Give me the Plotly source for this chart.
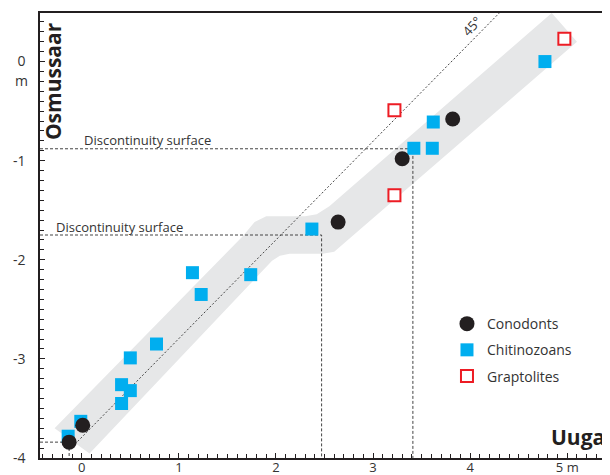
import plotly.graph_objects as go

# ---- data (metres) ----
conodont_x = [-0.13, 0.01, 2.64, 3.30, 3.82]
conodont_y = [-3.84, -3.67, -1.62, -0.98, -0.58]

chitino_x = [-0.14, -0.01, 0.41, 0.41, 0.50, 0.50, 0.77, 1.14, 1.23, 1.74, 2.37, 3.42, 3.61, 3.62, 4.77]
chitino_y = [-3.78, -3.63, -3.45, -3.26, -3.32, -2.99, -2.85, -2.13, -2.35, -2.15, -1.69, -0.875, -0.875, -0.61, 0.00]

grapto_x = [3.22, 3.22, 4.97]
grapto_y = [-0.49, -1.35, 0.23]

# discontinuity surfaces: Uuga position / Osmussaar position
disc_x = [2.47, 3.41]
disc_y = [-1.75, -0.88]

# 45 degree reference line end points
diag_x = [-0.10, 4.30]
diag_y = [-3.89, 0.49]

# correlation band outline
band_x = [-0.28, 1.66, 1.78, 1.90, 2.30, 2.42, 2.55, 4.84, 5.10, 2.70, 2.60, 2.48, 2.14, 2.04, 1.96, 0.08, -0.28]
band_y = [-3.70, -1.76, -1.62, -1.56, -1.56, -1.54, -1.46, 0.49, 0.20, -1.83, -1.92, -1.94, -1.94, -1.96, -2.01, -3.955, -3.70]

x_ticks = [0, 1, 2, 3, 4, 5]
x_ticktext = ["0", "1", "2", "3", "4", "5 m"]
y_ticks = [0, -1, -2, -3, -4]
y_ticktext = ["0", "-1", "-2", "-3", "-4"]

X_RANGE = [-0.43, 5.44]
Y_RANGE = [-4.0, 0.49]

FONT = "Open Sans"
DARK = "#231f20"
LINE = "#444444"

fig = go.Figure()

# band
fig.add_trace(go.Scatter(x=band_x, y=band_y, fill="toself", mode="lines",
                         line=dict(width=0), fillcolor="#e6e7e8",
                         hoverinfo="skip", showlegend=False))

# 45 degree line
fig.add_trace(go.Scatter(x=diag_x, y=diag_y, mode="lines",
                         line=dict(color=LINE, width=1, dash="2px,2px"),
                         hoverinfo="skip", showlegend=False))

# discontinuity guide lines
for dx, dy in zip(disc_x, disc_y):
    fig.add_trace(go.Scatter(x=[X_RANGE[0], dx, dx], y=[dy, dy, Y_RANGE[0]], mode="lines",
                             line=dict(color=LINE, width=1, dash="3px,2px"),
                             hoverinfo="skip", showlegend=False))

# base reference from lowest conodont
fig.add_trace(go.Scatter(x=[X_RANGE[0], conodont_x[0], conodont_x[0]],
                         y=[conodont_y[0], conodont_y[0], Y_RANGE[0]], mode="lines",
                         line=dict(color=LINE, width=1, dash="3px,2px"),
                         hoverinfo="skip", showlegend=False))

fig.add_trace(go.Scatter(x=chitino_x, y=chitino_y, mode="markers", name="Chitinozoans",
                         marker=dict(symbol="square", size=13, color="#00aeef"),
                         legendrank=2, legendgroup="b"))
fig.add_trace(go.Scatter(x=grapto_x, y=grapto_y, mode="markers", name="Graptolites",
                         marker=dict(symbol="square", size=12, color="white",
                                     line=dict(color="#ed1c24", width=2)),
                         legendrank=3, legendgroup="c"))
fig.add_trace(go.Scatter(x=conodont_x, y=conodont_y, mode="markers", name="Conodonts",
                         marker=dict(symbol="circle", size=15, color=DARK),
                         legendrank=1, legendgroup="a"))

ann = [
    dict(x=0.0, y=-0.79, text="Discontinuity surface", xanchor="left", yanchor="middle",
         font=dict(size=13, color="#333")),
    dict(x=-0.29, y=-1.67, text="Discontinuity surface", xanchor="left", yanchor="middle",
         font=dict(size=13, color="#333")),
    dict(x=4.02, y=0.354, text="45°", textangle=-47, font=dict(size=13, color="#333")),
    dict(x=-0.294, y=-0.195, text="<b>Osmussaar</b>", textangle=-90,
         font=dict(size=21, color=DARK)),
    dict(x=5.11, y=-3.79, text="<b>Uuga</b>", font=dict(size=21, color=DARK)),
    dict(xref="paper", yref="y", x=-0.032, y=-0.19, text="m", xanchor="center",
         font=dict(size=14, color="#333")),
]
for a in ann:
    a.setdefault("xref", "x")
    a.setdefault("yref", "y")
    a["showarrow"] = False
fig.update_layout(annotations=ann)

fig.update_xaxes(range=X_RANGE, tickvals=x_ticks, ticktext=x_ticktext,
                 showgrid=False, zeroline=False, showline=True, linecolor=DARK, linewidth=1.5,
                 mirror=True, ticks="inside", ticklen=5, tickcolor=DARK, tickwidth=1,
                 minor=dict(dtick=0.1, tick0=0, ticks="inside", ticklen=4, tickcolor=DARK, tickwidth=1),
                 tickfont=dict(size=13, color="#333"), ticklabelstandoff=-3)
fig.update_yaxes(range=Y_RANGE, tickvals=y_ticks, ticktext=y_ticktext,
                 showgrid=False, zeroline=False, showline=True, linecolor=DARK, linewidth=1.5,
                 ticks="inside", ticklen=5, tickcolor=DARK, tickwidth=1,
                 minor=dict(dtick=0.1, tick0=0, ticks="inside", ticklen=4, tickcolor=DARK, tickwidth=1),
                 tickfont=dict(size=14, color="#333"), ticklabelstandoff=10)

# page body has an 8px default margin: size the figure so it fills the window exactly
fig.update_layout(
    width=602, height=467,
    margin=dict(l=32, r=0, t=5, b=17, autoexpand=False),
    paper_bgcolor="white", plot_bgcolor="white",
    font=dict(family=FONT, color="#333"),
    legend=dict(x=0.714, y=0.337, xanchor="left", yanchor="top",
                font=dict(size=14, color="#333"), tracegroupgap=5,
                bgcolor="rgba(0,0,0,0)"),
)

fig.write_html("out.html")
